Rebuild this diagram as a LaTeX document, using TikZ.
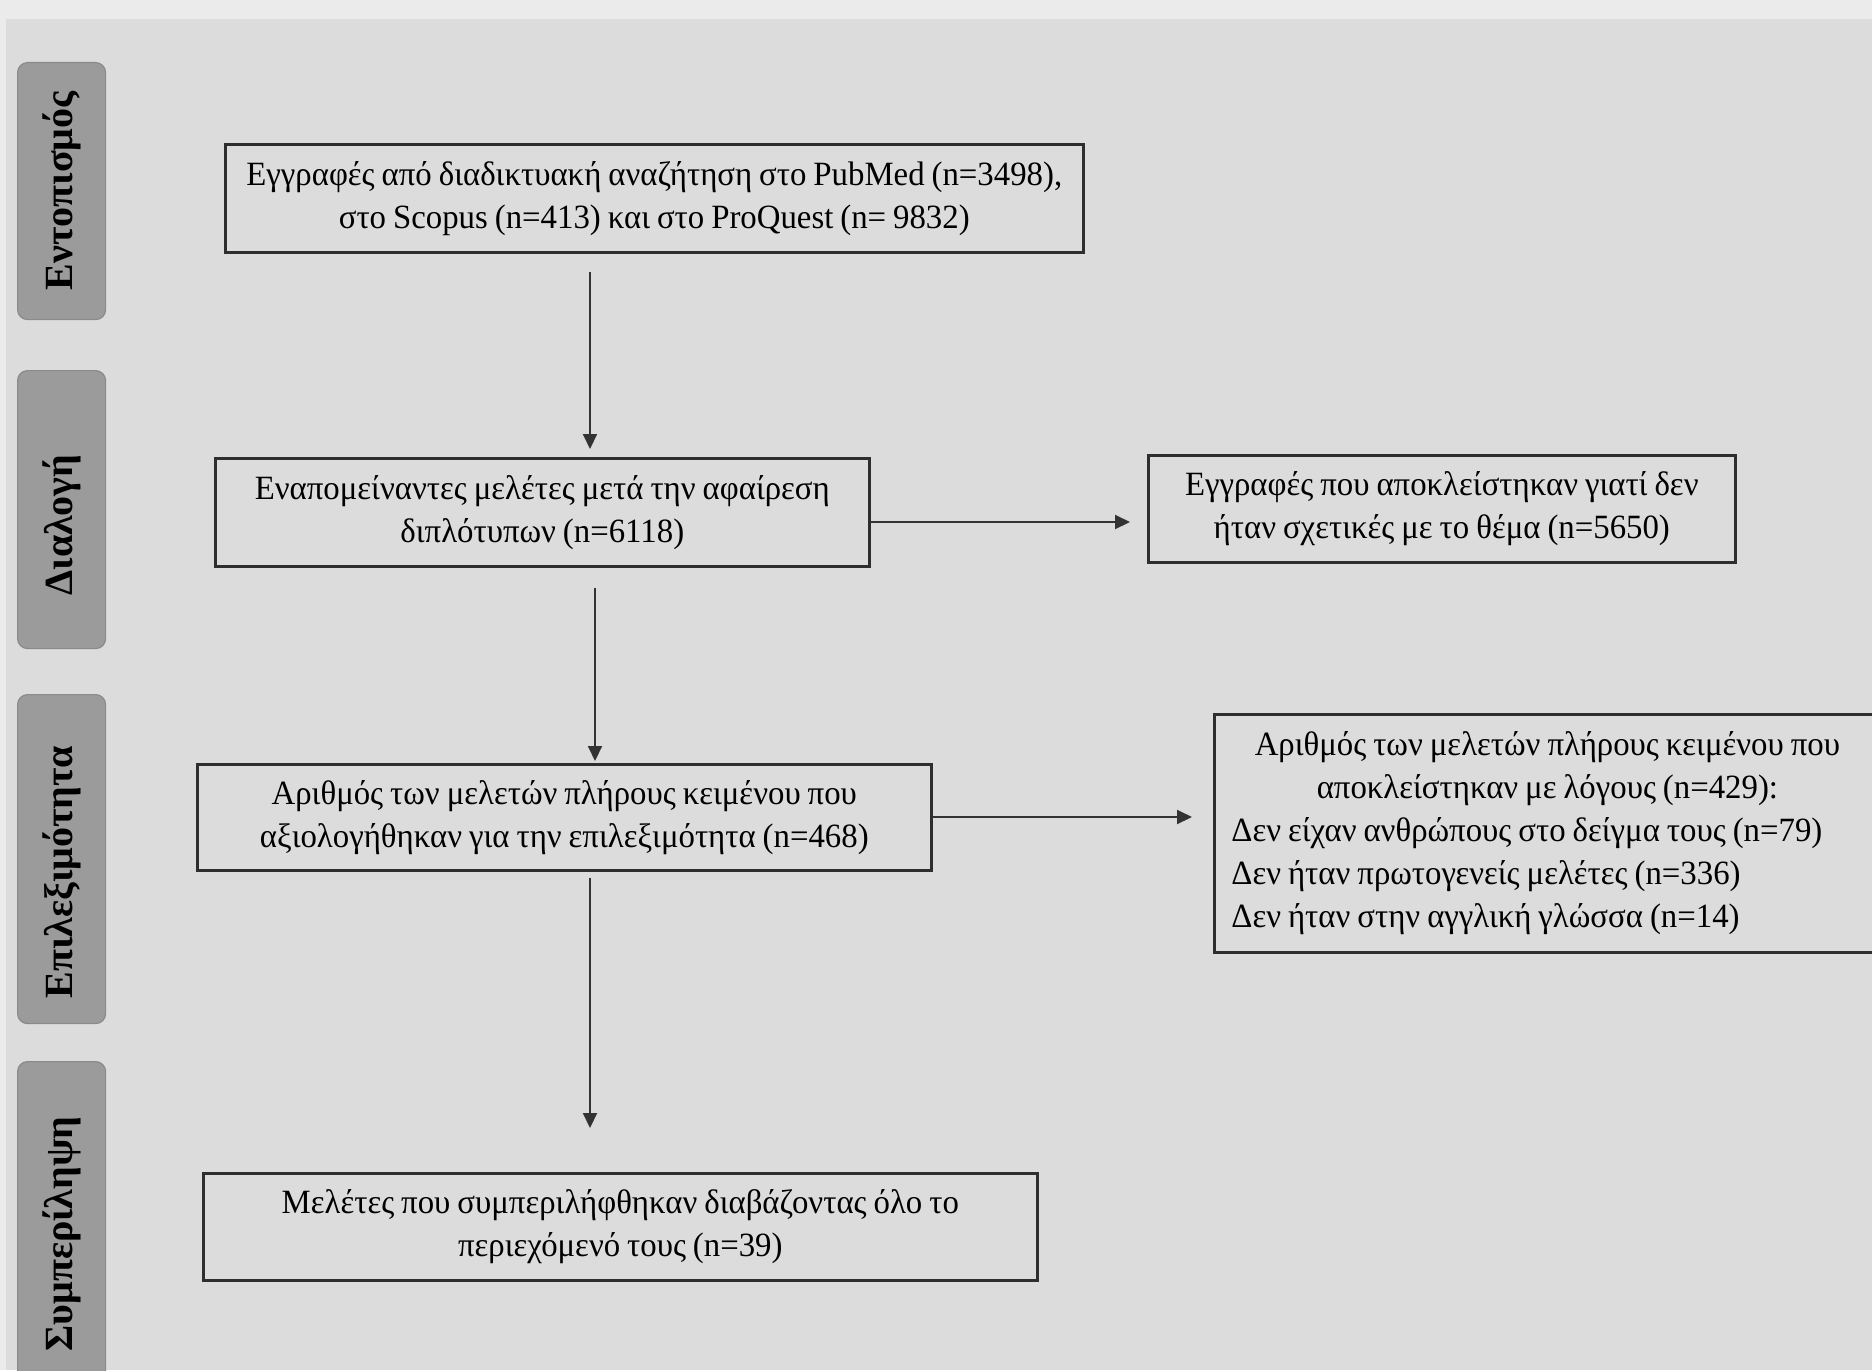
\documentclass[tikz,border=0pt]{standalone}
\usepackage{fontspec}
\setmainfont{Liberation Serif}
\newfontfamily\boxfont{Liberation Serif}[FakeStretch=0.965, WordSpace=0.85]
\usetikzlibrary{arrows.meta,calc}
\definecolor{bgmain}{HTML}{DCDCDC}
\definecolor{bgtop}{HTML}{EBEBEB}
\definecolor{tabfill}{HTML}{9B9B9B}
\definecolor{tabline}{HTML}{8A8A8A}
\definecolor{boxline}{HTML}{2E2E2E}
\definecolor{arrcol}{HTML}{333333}
\begin{document}
\begin{tikzpicture}[x=0.5pt,y=-0.5pt,
  box/.style={draw=boxline, line width=1.3pt, anchor=north west, inner sep=0pt, align=center,
    font=\boxfont\fontsize{17}{21.5}\selectfont, text=black},
  tabbox/.style={fill=tabfill, draw=tabline, line width=0.6pt, rounded corners=5pt, anchor=north west, inner sep=0pt},
  tabtext/.style={rotate=90, font=\fontsize{20}{24}\selectfont\bfseries, text=black, inner sep=0pt},
  arr/.style={draw=arrcol, line width=1pt, -{Triangle[width=7pt,length=7.5pt]}}
]
\clip (0,0) rectangle (1872,1370);
\fill[bgtop] (0,0) rectangle (1872,1370);
\fill[bgmain] (6,19) rectangle (1872,1370);

% side tabs
\node[tabbox, minimum width=44pt, minimum height=128.5pt] (t1) at (17,62) {};
\node[tabbox, minimum width=44pt, minimum height=139pt] (t2) at (17,370) {};
\node[tabbox, minimum width=44pt, minimum height=164.5pt] (t3) at (17,694) {};
\node[tabbox, minimum width=44pt, minimum height=173pt] (t4) at (17,1061) {};
\node[tabtext] (t1l) at (62,191) {Εντοπισμός};
\node[tabtext] (t2l) at (62,525) {Διαλογή};
\node[tabtext] (t3l) at (62,872) {Επιλεξιμότητα};
\node[tabtext] (t4l) at (62,1234) {Συμπερίληψη};

% boxes
\node[box, minimum width=429pt, minimum height=54pt] (b1) at (224,143)
  {Εγγραφές από διαδικτυακή αναζήτηση στο PubMed (n=3498),\\ στο Scopus (n=413) και στο ProQuest (n= 9832)};
\node[box, minimum width=327pt, minimum height=54pt] (b2) at (214,457)
  {Εναπομείναντες μελέτες μετά την αφαίρεση\\ διπλότυπων (n=6118)};
\node[box, minimum width=293.5pt, minimum height=53.5pt] (b3) at (1147,454)
  {Εγγραφές που αποκλείστηκαν γιατί δεν\\ ήταν σχετικές με το θέμα (n=5650)};
\node[box, minimum width=367pt, minimum height=53pt] (b4) at (196,763)
  {Αριθμός των μελετών πλήρους κειμένου που\\ αξιολογήθηκαν για την επιλεξιμότητα (n=468)};
\node[box, minimum width=343.5pt, minimum height=119pt] (b5) at (1213,713) {};
\node[anchor=west, inner sep=0pt, text width=316pt, align=left,
  font=\boxfont\fontsize{17}{21.5}\selectfont] (b5t) at (1231,833)
  {\spaceskip=0pt \xspaceskip=0pt
   {\centering \mbox{Αριθμός των μελετών πλήρους κειμένου που}\\ \mbox{αποκλείστηκαν με λόγους (n=429):}\par}
   \mbox{Δεν είχαν ανθρώπους στο δείγμα τους (n=79)}\\
   \mbox{Δεν ήταν πρωτογενείς μελέτες (n=336)}\\
   \mbox{Δεν ήταν στην αγγλική γλώσσα (n=14)}};
\node[box, minimum width=417pt, minimum height=53.5pt] (b6) at (202,1172)
  {Μελέτες που συμπεριλήφθηκαν διαβάζοντας όλο το\\ περιεχόμενό τους (n=39)};

% connectors
\coordinate (v1) at (590,0);
\coordinate (v2) at (595,0);
\coordinate (h1) at (0,522);
\coordinate (h2) at (0,817);
\draw[arr, shorten <=9pt, shorten >=4pt] (b1.south -| v1) -- (b2.north -| v1);
\draw[arr, shorten <=10pt, shorten >=1pt] (b2.south -| v2) -- (b4.north -| v2);
\draw[arr, shorten <=3pt, shorten >=22pt] (b4.south -| v1) -- (b6.north -| v1);
\draw[arr, shorten >=8.5pt] (b2.east |- h1) -- (b3.west |- h1);
\draw[arr, shorten >=10.5pt] (b4.east |- h2) -- (b5.west |- h2);
\end{tikzpicture}
\end{document}
